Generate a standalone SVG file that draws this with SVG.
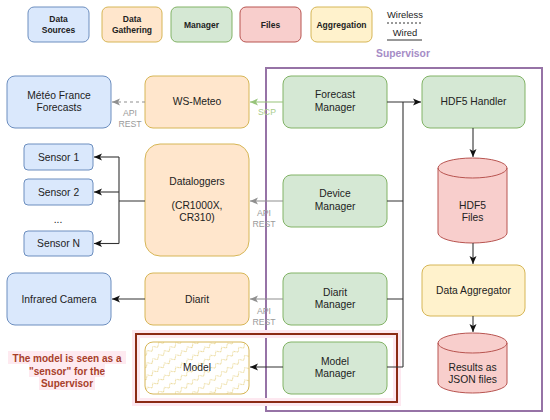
<svg xmlns="http://www.w3.org/2000/svg" width="550" height="420" viewBox="0 0 550 420">
<style>
text{font-family:"Liberation Sans",Arial,sans-serif;fill:#222;text-anchor:middle;dominant-baseline:central}
.lg{font-size:8.5px;font-weight:bold}
.t{font-size:10.3px}
.lab{font-size:8.7px;fill:#9a9a9a}
.src{fill:#dae8fc;stroke:#6c8ebf;stroke-width:1}
.gat{fill:#ffe6cc;stroke:#d6b656;stroke-width:1}
.man{fill:#d5e8d4;stroke:#82b366;stroke-width:1}
.fil{fill:#f8cecc;stroke:#b85450;stroke-width:1}
.agg{fill:#fff2cc;stroke:#d6b656;stroke-width:1}
.k{fill:none;stroke:#333;stroke-width:1.1}
.g{fill:none;stroke:#8f8f8f;stroke-width:1.1}
.red{font-size:10px;font-weight:bold;fill:#a8402a}
</style>
<defs>
<marker id="ak" markerUnits="userSpaceOnUse" markerWidth="10" markerHeight="10" viewBox="0 0 10 10" refX="9" refY="5" orient="auto"><path d="M1,1.5 L9,5 L1,8.5 L3,5 Z" fill="#111"/></marker>
<marker id="ag" markerUnits="userSpaceOnUse" markerWidth="10" markerHeight="10" viewBox="0 0 10 10" refX="9" refY="5" orient="auto"><path d="M1,1.5 L9,5 L1,8.5 L3,5 Z" fill="#8f8f8f"/></marker>
<marker id="agr" markerUnits="userSpaceOnUse" markerWidth="10" markerHeight="10" viewBox="0 0 10 10" refX="9" refY="5" orient="auto"><path d="M1,1.5 L9,5 L1,8.5 L3,5 Z" fill="#97c47a"/></marker>
<pattern id="zz" patternUnits="userSpaceOnUse" width="14" height="10" patternTransform="rotate(-35)">
<path d="M0,5 L3.5,1.5 L7,5 L10.5,1.5 L14,5" fill="none" stroke="#ecdca0" stroke-width="1"/>
</pattern>
</defs>

<!-- legend -->
<g id="legend">
<rect class="src" x="28" y="7" width="61" height="35" rx="6"/><text class="lg" x="58.5" y="19">Data</text><text class="lg" x="58.5" y="30">Sources</text>
<rect class="gat" x="102" y="7" width="60" height="35" rx="6"/><text class="lg" x="132" y="19">Data</text><text class="lg" x="132" y="30">Gathering</text>
<rect class="man" x="171" y="7" width="61" height="35" rx="6"/><text class="lg" x="201.5" y="24.5">Manager</text>
<rect class="fil" x="240" y="7" width="61" height="35" rx="6"/><text class="lg" x="270.5" y="24.5">Files</text>
<rect class="agg" x="311" y="7" width="61" height="35" rx="6"/><text class="lg" x="341.5" y="24.5">Aggregation</text>
<text x="405" y="14" style="font-size:9.4px">Wireless</text>
<line x1="387" y1="23" x2="422" y2="23" stroke="#333" stroke-width="1" stroke-dasharray="2,2"/>
<text x="405" y="32" style="font-size:9.4px">Wired</text>
<line x1="387" y1="40" x2="422" y2="40" stroke="#333" stroke-width="1"/>
</g>

<!-- supervisor -->
<g id="supervisor">
<rect x="266" y="68" width="276" height="343" fill="none" stroke="#9673a6" stroke-width="2"/>
<text x="403" y="53" style="font-size:10.3px;font-weight:bold;fill:#a58cc6">Supervisor</text>
</g>

<!-- highlight -->
<g id="model-highlight">
<rect x="136" y="334" width="261" height="68" fill="none" stroke="#fde8f0" stroke-width="8"/>
<rect x="136" y="334" width="261" height="68" fill="none" stroke="#8b2a14" stroke-width="2"/>
<rect x="8" y="351" width="118" height="13" fill="#feeaf0"/>
<rect x="29" y="364" width="76" height="13" fill="#feeaf0"/>
<rect x="39" y="377" width="56" height="13" fill="#feeaf0"/>
<text class="red" x="67" y="358">The model is seen as a</text>
<text class="red" x="67" y="371">"sensor" for the</text>
<text class="red" x="67" y="383.5">Supervisor</text>
</g>

<!-- nodes -->
<g id="meteo-france"><rect class="src" x="7" y="76" width="104" height="52" rx="8"/><text class="t" x="59" y="95">Météo France</text><text class="t" x="59" y="107.5">Forecasts</text></g>
<g id="sensor1"><rect class="src" x="24" y="144" width="69" height="26" rx="4"/><text class="t" x="58.5" y="157">Sensor 1</text></g>
<g id="sensor2"><rect class="src" x="24" y="179" width="69" height="26" rx="4"/><text class="t" x="58.5" y="192">Sensor 2</text></g>
<text x="58" y="219" class="t">...</text>
<g id="sensorN"><rect class="src" x="24" y="231" width="69" height="25" rx="4"/><text class="t" x="58.5" y="243.5">Sensor N</text></g>
<g id="infrared"><rect class="src" x="7" y="273" width="104" height="52" rx="8"/><text class="t" x="59" y="299">Infrared Camera</text></g>

<g id="ws-meteo"><rect class="gat" x="145" y="76" width="104" height="52" rx="8"/><text class="t" x="197" y="101">WS-Meteo</text></g>
<g id="dataloggers"><rect class="gat" x="145" y="144" width="104" height="112" rx="15"/><text class="t" x="197" y="181">Dataloggers</text><text class="t" x="197" y="205.5">(CR1000X,</text><text class="t" x="197" y="217.5">CR310)</text></g>
<g id="diarit"><rect class="gat" x="145" y="273" width="104" height="52" rx="8"/><text class="t" x="197" y="299">Diarit</text></g>
<g id="model"><rect x="145" y="342" width="104" height="52" rx="8" fill="#fff"/><rect x="145" y="342" width="104" height="52" rx="8" fill="url(#zz)" stroke="#d6b656" stroke-width="1"/><text class="t" x="197" y="367">Model</text></g>

<g id="forecast-manager"><rect class="man" x="283" y="76" width="104" height="52" rx="8"/><text class="t" x="335" y="94.5">Forecast</text><text class="t" x="335" y="107">Manager</text></g>
<g id="device-manager"><rect class="man" x="283" y="175" width="104" height="52" rx="8"/><text class="t" x="335" y="193.5">Device</text><text class="t" x="335" y="206">Manager</text></g>
<g id="diarit-manager"><rect class="man" x="283" y="273" width="104" height="52" rx="8"/><text class="t" x="335" y="292">Diarit</text><text class="t" x="335" y="304.5">Manager</text></g>
<g id="model-manager"><rect class="man" x="283" y="342" width="104" height="52" rx="8"/><text class="t" x="335" y="361">Model</text><text class="t" x="335" y="373.5">Manager</text></g>

<g id="hdf5-handler"><rect class="man" x="422" y="76" width="103" height="52" rx="8"/><text class="t" x="473.5" y="101">HDF5 Handler</text></g>
<g id="hdf5-files"><path class="fil" d="M438,168 A34.5,10 0 0 1 507,168 V233 A34.5,10 0 0 1 438,233 Z"/><path d="M438,168 A34.5,10 0 0 0 507,168" fill="none" stroke="#b85450" stroke-width="1"/><text class="t" x="472.5" y="205">HDF5</text><text class="t" x="472.5" y="217">Files</text></g>
<g id="data-aggregator"><rect class="agg" x="422" y="265" width="103" height="51" rx="8"/><text class="t" x="473.5" y="290">Data Aggregator</text></g>
<g id="results"><path class="fil" d="M438,343 A34.5,10 0 0 1 507,343 V383 A34.5,10 0 0 1 438,383 Z"/><path d="M438,343 A34.5,10 0 0 0 507,343" fill="none" stroke="#b85450" stroke-width="1"/><text class="t" x="472.5" y="367">Results as</text><text class="t" x="472.5" y="379">JSON files</text></g>

<!-- connectors -->
<g id="connectors">
<line class="g" x1="145" y1="102" x2="112" y2="102" stroke-dasharray="3,3" marker-end="url(#ag)"/>
<text class="lab" x="130" y="113">API</text><text class="lab" x="130" y="124">REST</text>
<path class="k" d="M145,201 H119 M119,157 V243.5"/>
<line class="k" x1="119" y1="157" x2="94" y2="157" marker-end="url(#ak)"/>
<line class="k" x1="119" y1="192" x2="94" y2="192" marker-end="url(#ak)"/>
<line class="k" x1="119" y1="243.5" x2="94" y2="243.5" marker-end="url(#ak)"/>
<line class="k" x1="145" y1="299" x2="112" y2="299" marker-end="url(#ak)"/>
<line x1="283" y1="102" x2="250" y2="102" stroke="#97c47a" stroke-width="1.1" marker-end="url(#agr)"/>
<text x="267" y="112" style="font-size:8.7px;fill:#a8cc8a">SCP</text>
<line class="g" x1="283" y1="201" x2="250" y2="201" marker-end="url(#ag)"/>
<text class="lab" x="264" y="213">API</text><text class="lab" x="264" y="224">REST</text>
<line class="g" x1="283" y1="299" x2="250" y2="299" marker-end="url(#ag)"/>
<text class="lab" x="264" y="311">API</text><text class="lab" x="264" y="322">REST</text>
<line class="k" x1="283" y1="367" x2="250" y2="367" marker-end="url(#ak)"/>
<path class="k" d="M387,201 H403 M387,299 H403 M387,367 H403 M403,102 V367"/>
<line class="k" x1="387" y1="102" x2="421" y2="102" marker-end="url(#ak)"/>
<line class="k" x1="473" y1="128" x2="473" y2="157" marker-end="url(#ak)"/>
<line class="k" x1="473" y1="243" x2="473" y2="264" marker-end="url(#ak)"/>
<line class="k" x1="473" y1="316" x2="473" y2="332" marker-end="url(#ak)"/>
</g>
</svg>
